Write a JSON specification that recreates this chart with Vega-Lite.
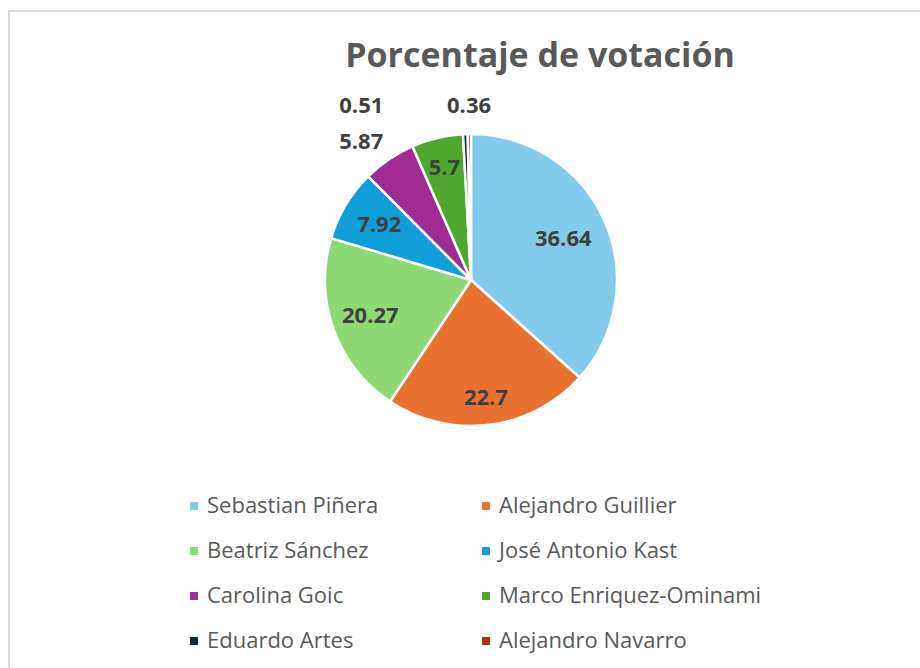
{
  "$schema": "https://vega.github.io/schema/vega-lite/v6.json",
  "autosize": {"type": "fit", "contains": "padding"},
  "width": 920,
  "height": 668,
  "padding": {"left": 9, "top": 11, "right": -3, "bottom": -3},
  "background": "white",
  "view": {"stroke": "#D9D9D9", "strokeWidth": 2},
  "config": {
    "view": {"stroke": "#D9D9D9", "strokeWidth": 2},
    "font": "Open Sans"
  },
  "title": {
    "text": "Porcentaje de votación",
    "font": "Open Sans",
    "fontSize": 34,
    "fontWeight": "bold",
    "color": "#595959",
    "anchor": "middle",
    "dx": 74,
    "offset": -63
  },
  "data": {
    "values": [
      {"n": 1, "name": "Sebastian Piñera", "value": 36.64},
      {"n": 2, "name": "Alejandro Guillier", "value": 22.7},
      {"n": 3, "name": "Beatriz Sánchez", "value": 20.27},
      {"n": 4, "name": "José Antonio Kast", "value": 7.92},
      {"n": 5, "name": "Carolina Goic", "value": 5.87},
      {"n": 6, "name": "Marco Enriquez-Ominami", "value": 5.7},
      {"n": 7, "name": "Eduardo Artes", "value": 0.51},
      {"n": 8, "name": "Alejandro Navarro", "value": 0.36}
    ]
  },
  "encoding": {
    "theta": {"field": "value", "type": "quantitative", "stack": true},
    "order": {"field": "n", "type": "quantitative"}
  },
  "layer": [
    {
      "mark": {"type": "arc", "outerRadius": 146, "stroke": "white", "strokeWidth": 2.5, "xOffset": 5, "yOffset": -61},
      "encoding": {
        "color": {
          "field": "name",
          "type": "nominal",
          "sort": null,
          "scale": {
            "domain": ["Sebastian Piñera", "Alejandro Guillier", "Beatriz Sánchez", "José Antonio Kast", "Carolina Goic", "Marco Enriquez-Ominami", "Eduardo Artes", "Alejandro Navarro"],
            "range": ["#83CBEB", "#E97132", "#8ED973", "#0F9ED5", "#A02B93", "#4EA72E", "#0E2841", "#9B3B0D"]
          },
          "legend": {
            "title": null,
            "orient": "none",
            "direction": "horizontal",
            "legendX": 174,
            "legendY": 484,
            "columns": 2,
            "symbolType": "square",
            "symbolSize": 64,
            "symbolStrokeWidth": 0,
            "labelFont": "Open Sans",
            "labelFontSize": 22,
            "labelColor": "#595959",
            "labelOffset": 2,
            "rowPadding": 23,
            "columnPadding": 96,
            "labelLimit": 400
          }
        }
      }
    },
    {
      "mark": {
        "type": "text",
        "font": "Open Sans",
        "fontSize": 22,
        "fontWeight": "bold",
        "color": "#404040",
        "align": "center",
        "baseline": "middle",
        "xOffset": 5,
        "yOffset": -61,
        "radius": {"expr": "datum.name === 'Sebastian Piñera' ? 101 : datum.name === 'Alejandro Guillier' ? 119 : datum.name === 'Marco Enriquez-Ominami' ? 115 : datum.name === 'Carolina Goic' ? 172 : datum.value < 1 ? 174 : 107"},
        "dx": {"expr": "datum.name === 'Eduardo Artes' ? -103 : datum.name === 'Carolina Goic' ? -13 : 0"},
        "dy": {"expr": "datum.name === 'Carolina Goic' ? 4 : 0"}
      },
      "encoding": {
        "text": {"field": "value", "type": "quantitative"}
      }
    }
  ]
}
